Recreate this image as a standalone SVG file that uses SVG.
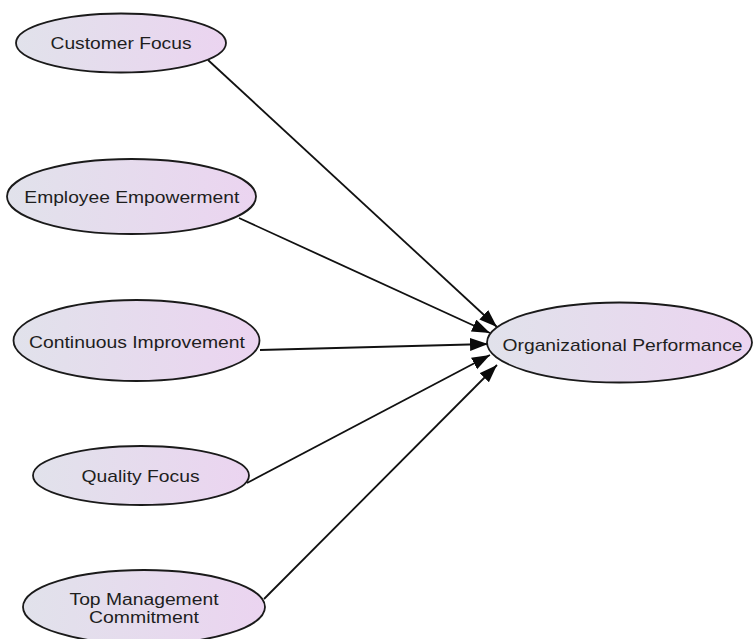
<svg xmlns="http://www.w3.org/2000/svg" width="754" height="639" viewBox="0 0 754 639">
  <defs>
    <linearGradient id="fill" x1="0" y1="0" x2="1" y2="0">
      <stop offset="0" stop-color="#e1e2eb"/>
      <stop offset="1" stop-color="#ebd4f0"/>
    </linearGradient>
    <marker id="arrow" markerUnits="userSpaceOnUse" markerWidth="20" markerHeight="14" refX="18" refY="6.5" orient="auto">
      <path d="M0,0 L18,6.5 L0,13 Z" fill="#0a0a0a"/>
    </marker>
    <style>
      .node ellipse { fill: url(#fill); stroke: #1a1a1a; stroke-width: 1.8; }
      .node text { font-family: "Liberation Sans", Arial, sans-serif; font-size: 17px; fill: #1e1e1e; text-anchor: middle; }
      .node text.two { font-size: 16px; }
      .edges line { stroke: #111; stroke-width: 1.8; marker-end: url(#arrow); }
    </style>
  </defs>
  <rect width="754" height="639" fill="#ffffff"/>
  <g class="edges">
    <line x1="208" y1="60" x2="497" y2="327"/>
    <line x1="239" y1="218" x2="490" y2="333"/>
    <line x1="260" y1="350" x2="488" y2="344"/>
    <line x1="247" y1="483" x2="490" y2="355"/>
    <line x1="264" y1="599" x2="497" y2="365"/>
  </g>
  <g id="customer-focus" class="node">
    <ellipse cx="121" cy="43" rx="105" ry="29.5"/>
    <text x="121" y="49" textLength="141" lengthAdjust="spacingAndGlyphs">Customer Focus</text>
  </g>
  <g id="employee-empowerment" class="node">
    <ellipse cx="131.5" cy="196.5" rx="124.5" ry="37.5"/>
    <text x="131.8" y="203" textLength="215" lengthAdjust="spacingAndGlyphs">Employee Empowerment</text>
  </g>
  <g id="continuous-improvement" class="node">
    <ellipse cx="136.5" cy="340.5" rx="123" ry="40.5"/>
    <text x="137" y="347.5" textLength="216" lengthAdjust="spacingAndGlyphs">Continuous Improvement</text>
  </g>
  <g id="quality-focus" class="node">
    <ellipse cx="141" cy="475.5" rx="108" ry="29.5"/>
    <text x="140.6" y="482" textLength="118" lengthAdjust="spacingAndGlyphs">Quality Focus</text>
  </g>
  <g id="top-management-commitment" class="node">
    <ellipse cx="144" cy="607" rx="121" ry="37"/>
    <text class="two" x="144" y="604.5" textLength="149" lengthAdjust="spacingAndGlyphs">Top Management</text>
    <text class="two" x="144" y="623" textLength="110" lengthAdjust="spacingAndGlyphs">Commitment</text>
  </g>
  <g id="organizational-performance" class="node">
    <ellipse cx="619.5" cy="342.5" rx="132.5" ry="40"/>
    <text x="622.5" y="351" textLength="240" lengthAdjust="spacingAndGlyphs">Organizational Performance</text>
  </g>
</svg>
